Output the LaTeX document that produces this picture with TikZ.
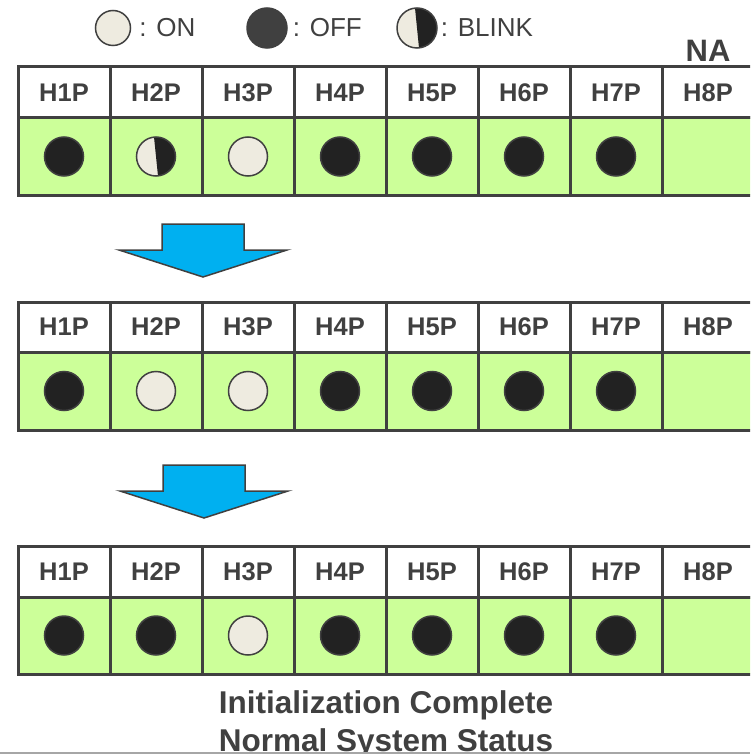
\documentclass[tikz,border=0pt]{standalone}
\usepackage{fontspec}
\setmainfont{Liberation Sans}
\usetikzlibrary{positioning}
\definecolor{linec}{HTML}{404040}
\definecolor{lampc}{HTML}{CCFF99}
\definecolor{onc}{HTML}{EEEBE0}
\definecolor{offc}{HTML}{222222}
\definecolor{arrowc}{HTML}{00B0F0}
\tikzset{
  hdr/.style={draw=linec, line width=3pt, fill=white, minimum width=92pt, minimum height=51pt,
    anchor=north west, inner sep=0pt, outer sep=0pt, text=linec, font=\bfseries\fontsize{25.5}{30}\selectfont},
  lamp/.style={hdr, fill=lampc, minimum height=77pt},
  dot/.style={circle, draw=linec, line width=1.5pt, minimum size=39pt, inner sep=0pt},
  ondot/.style={dot, fill=onc},
  offdot/.style={dot, fill=offc},
  blinkdot/.style={dot, fill=onc, path picture={
    \fill[offc] ([xshift=-2pt]path picture bounding box.north) -- ([xshift=2pt]path picture bounding box.south)
      -- (path picture bounding box.south east) -- (path picture bounding box.north east) -- cycle;}},
  legend/.style={text=linec, font=\fontsize{26}{30}\selectfont, inner sep=0pt, anchor=west},
  downarrow/.style={draw=linec, line width=1.5pt, fill=arrowc, line join=miter},
  blockdown/.pic={\draw[downarrow] (-41,0) -- (41,0) -- (41,26) -- (84,26) -- (0,53) -- (-84,26) -- (-41,26) -- cycle;}
}
\begin{document}
\begin{tikzpicture}[x=1pt,y=-1pt]
  \useasboundingbox (0,0) rectangle (750,754);
  \clip (0,0) rectangle (750,754);
  % legend
  \node[ondot, minimum size=35pt] (on) at (113,28) {};
  \node[legend, right=8pt of on] (ontext) {: ON};
  \node[dot, fill=linec, minimum size=40pt] (off) at (267,28) {};
  \node[legend, right=5pt of off] (offtext) {: OFF};
  \node[blinkdot, minimum size=40pt] (blink) at (417,28) {};
  \node[legend, right=3pt of blink] (blinktext) {: BLINK};
  % three tables
  \foreach \t/\top/\hh/\lh in {a/67/51/77, b/302/50/78, c/546/51/77} {
    \foreach \i in {1,...,8} {
      \node[hdr, minimum height=\hh pt] (\t h\i) at ({18+92*(\i-1)},\top) {H\i P};
      \node[lamp, minimum height=\lh pt] (\t l\i) at (\t h\i.south west) {};
    }
  }
  \node[text=linec, font=\bfseries\fontsize{31}{36}\selectfont, inner sep=0pt, above=5pt of ah8] (na) {NA};
  % lamp states
  \foreach \t/\states in {a/{offdot,blinkdot,ondot,offdot,offdot,offdot,offdot},
                          b/{offdot,ondot,ondot,offdot,offdot,offdot,offdot},
                          c/{offdot,offdot,ondot,offdot,offdot,offdot,offdot}} {
    \foreach \s [count=\i] in \states {
      \node[\s] (\t d\i) at (\t l\i) {};
    }
  }
  % arrows between tables
  \pic at (203,224) {blockdown};
  \pic at (204,465) {blockdown};
  % status text
  \node[text=linec, align=center, inner sep=0pt, font=\bfseries\fontsize{31.5}{38}\selectfont,
    below=16pt of cl4.south east] (status) {Initialization Complete\\Normal System Status};
  \draw[black!35, line width=2pt] (0,753) -- (750,753);
\end{tikzpicture}
\end{document}
